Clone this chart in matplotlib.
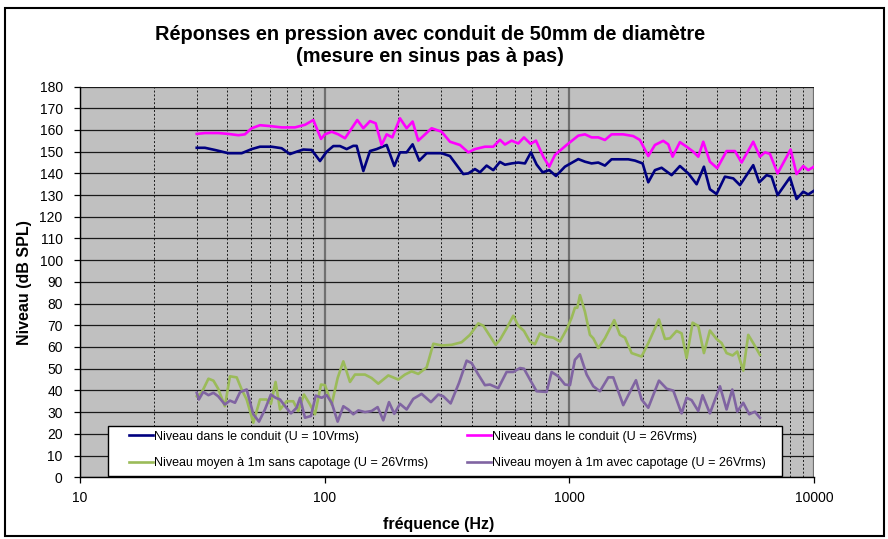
import matplotlib
matplotlib.use('Agg')
import matplotlib.pyplot as plt
from matplotlib.patches import Rectangle
from matplotlib.ticker import FixedLocator, FixedFormatter, NullFormatter

plt.rcParams['font.family'] = ['Liberation Sans', 'DejaVu Sans']

# ---- data (frequency in Hz, level in dB SPL) ----
freq_conduit_10v = [30.0, 32.4, 35.6, 40.4, 45.8, 50.3, 54.4, 60.7, 66.7, 72.1, 76.8, 81.8, 88.5, 95.7,
                    101.9, 108.5, 115.5, 123.0, 130.9, 135.1, 143.9, 153.2, 163.1, 179.2, 192.6, 203.1,
                    216.3, 228.8, 243.6, 261.1, 300.6, 325.1, 368.6, 386.4, 411.4, 431.2, 459.1, 488.8,
                    520.4, 545.5, 580.9, 618.5, 658.7, 696.8, 734.9, 777.7, 827.9, 881.7, 959.4, 1088,
                    1158, 1233, 1313, 1398, 1488, 1741, 1854, 1993, 2102, 2238, 2383, 2618, 2831, 3063,
                    3313, 3549, 3754, 3996, 4324, 4677, 4981, 5645, 5973, 6401, 6708, 7100, 7973, 8488,
                    9036, 9471, 10000]
level_conduit_10v = [151.8, 151.8, 150.8, 149.3, 149.3, 151.2, 152.3, 152.3, 151.6, 148.9, 150.0, 151.0,
                     150.8, 145.7, 150.0, 152.6, 152.6, 151.2, 152.7, 152.7, 141.1, 150.3, 151.2, 153.1,
                     143.4, 149.7, 149.7, 153.4, 145.9, 149.3, 149.3, 148.0, 139.7, 140.0, 142.0, 140.5,
                     143.6, 141.5, 145.3, 144.0, 144.6, 145.0, 144.6, 149.7, 144.1, 140.5, 141.5, 138.8,
                     143.1, 146.6, 145.4, 144.6, 145.0, 143.6, 146.5, 146.5, 145.9, 144.6, 135.9, 141.5,
                     142.6, 139.2, 143.4, 140.0, 135.0, 143.1, 132.7, 130.5, 138.5, 137.7, 134.6, 143.8,
                     135.9, 139.2, 138.5, 130.0, 138.1, 128.2, 131.6, 130.3, 132.0]

freq_conduit_26v = [30.0, 32.4, 36.7, 40.4, 44.4, 47.2, 50.3, 54.4, 59.8, 66.7, 75.6, 83.1, 89.9, 96.6,
                    100.3, 106.8, 113.7, 121.1, 135.9, 143.9, 153.2, 161.6, 170.9, 179.2, 189.0, 203.1,
                    216.3, 228.8, 241.3, 273.6, 300.6, 325.1, 357.3, 386.4, 411.4, 451.9, 488.8, 520.4,
                    545.5, 580.9, 618.5, 652.5, 694.6, 730.4, 782.6, 827.9, 873.4, 974.5, 1088, 1158,
                    1233, 1313, 1398, 1488, 1661, 1825, 1943, 2102, 2238, 2420, 2537, 2642, 2831, 3015,
                    3210, 3365, 3527, 3754, 4022, 4392, 4752, 5058, 5645, 6010, 6301, 6604, 7100, 8023,
                    8488, 9036, 9471, 10000]
level_conduit_26v = [158.2, 158.6, 158.6, 158.2, 157.6, 158.0, 160.8, 162.2, 161.8, 161.2, 161.2, 162.4,
                     164.6, 155.9, 158.0, 159.2, 158.0, 156.2, 164.6, 160.8, 164.1, 163.1, 153.1, 158.0,
                     156.6, 165.4, 160.8, 163.9, 155.1, 160.8, 159.2, 154.6, 153.1, 149.7, 151.2, 152.3,
                     152.3, 155.5, 153.3, 155.1, 153.8, 156.6, 153.6, 155.1, 147.7, 143.1, 148.5, 153.1,
                     157.4, 158.0, 156.6, 156.6, 155.4, 158.0, 158.0, 157.2, 155.4, 148.0, 153.1, 155.0,
                     153.4, 147.7, 154.4, 152.3, 150.0, 147.7, 154.6, 145.4, 142.4, 150.3, 150.3, 145.0,
                     154.6, 147.7, 149.7, 149.0, 140.0, 151.0, 139.7, 143.4, 141.5, 143.1]

freq_1m_sans = [30.0, 31.4, 33.5, 35.1, 36.7, 39.1, 41.0, 43.7, 45.8, 48.0, 51.1, 54.4, 57.9, 60.3, 63.0,
                65.7, 69.9, 74.4, 78.0, 82.3, 87.1, 91.3, 96.6, 100.3, 106.8, 113.0, 119.2, 126.9, 133.0,
                146.1, 155.6, 165.6, 182.0, 200.0, 212.9, 226.6, 241.3, 261.1, 278.0, 300.6, 330.3,
                362.9, 392.5, 424.5, 445.0, 499.7, 520.4, 554.1, 590.1, 618.5, 652.5, 690.2, 723.5,
                758.5, 807.4, 859.8, 915.4, 974.5, 1022, 1054, 1078, 1105, 1158, 1214, 1253, 1313,
                1398, 1526, 1610, 1688, 1797, 1974, 2102, 2324, 2459, 2577, 2744, 2876, 3015, 3190,
                3365, 3549, 3754, 3996, 4192, 4392, 4648, 4857, 5138, 5386, 5680, 6010]
level_1m_sans = [37.3, 38.9, 45.4, 44.5, 40.8, 32.7, 46.5, 46.0, 40.4, 35.8, 25.1, 35.8, 35.8, 33.8,
                 43.9, 31.2, 35.0, 35.0, 30.5, 38.1, 33.5, 29.0, 42.7, 42.4, 33.5, 45.7, 53.4, 43.9,
                 47.3, 47.3, 45.7, 43.1, 46.9, 45.0, 47.3, 48.8, 47.6, 50.6, 61.5, 60.7, 61.0, 62.2,
                 65.6, 70.9, 69.8, 61.0, 63.3, 68.6, 74.4, 69.8, 67.4, 62.5, 61.3, 66.3, 64.8, 64.3,
                 62.5, 68.1, 73.5, 78.1, 78.1, 83.9, 76.3, 65.6, 64.0, 59.5, 64.0, 72.4, 65.6, 64.3,
                 57.2, 55.6, 61.8, 72.7, 63.7, 64.0, 67.4, 66.3, 54.9, 71.2, 69.7, 57.2, 67.6, 63.7,
                 61.8, 57.2, 56.1, 57.9, 49.1, 65.6, 61.3, 56.4]

freq_1m_avec = [30.0, 30.6, 31.9, 33.5, 35.1, 36.7, 39.1, 41.0, 43.0, 45.1, 48.0, 51.1, 53.9, 57.0, 60.3,
                63.0, 65.7, 68.4, 72.8, 76.8, 79.3, 83.1, 87.9, 91.9, 97.2, 101.9, 106.8, 113.0, 119.2,
                124.9, 130.9, 137.3, 146.1, 155.6, 164.6, 173.6, 183.2, 192.6, 203.1, 216.3, 230.2,
                249.0, 271.9, 291.3, 305.3, 327.2, 353.9, 380.4, 398.6, 424.5, 451.9, 473.7, 512.3,
                554.1, 590.1, 628.3, 652.5, 690.2, 734.9, 807.4, 846.3, 901.2, 959.4, 1006, 1054, 1105,
                1177, 1253, 1334, 1443, 1512, 1661, 1872, 1974, 2102, 2324, 2498, 2660, 2876, 3015,
                3160, 3365, 3504, 3754, 4127, 4392, 4634, 4857, 5138, 5436, 5734, 6010]
level_1m_avec = [38.9, 35.8, 39.3, 37.8, 38.9, 37.3, 33.5, 35.3, 34.3, 39.2, 40.4, 29.0, 25.6, 31.2,
                 38.1, 36.6, 35.8, 33.2, 29.4, 32.0, 36.6, 27.4, 28.2, 37.6, 36.6, 37.8, 34.3, 25.6,
                 32.7, 31.2, 29.0, 30.8, 30.0, 30.5, 32.3, 26.2, 34.6, 29.2, 33.8, 31.2, 36.1, 38.4,
                 34.6, 38.1, 37.3, 34.0, 43.4, 53.7, 52.6, 47.3, 42.4, 42.7, 41.0, 48.5, 48.5, 50.3,
                 50.0, 45.0, 39.6, 39.3, 48.5, 46.5, 42.7, 42.4, 54.1, 56.7, 47.3, 41.9, 39.6, 46.0,
                 46.0, 33.2, 44.7, 35.8, 32.0, 44.5, 40.8, 39.9, 29.4, 36.6, 35.5, 30.5, 37.8, 29.4,
                 41.9, 31.2, 40.4, 30.2, 34.3, 29.0, 30.2, 27.4]

series_labels = ["Niveau dans le conduit (U = 10Vrms)",
                 "Niveau dans le conduit (U = 26Vrms)",
                 "Niveau moyen à 1m sans capotage (U = 26Vrms)",
                 "Niveau moyen à 1m avec capotage (U = 26Vrms)"]
x_tick_values = [10, 100, 1000, 10000]
x_tick_labels = ["10", "100", "1000", "10000"]
y_tick_values = list(range(0, 181, 10))

title_line1 = "Réponses en pression avec conduit de 50mm de diamètre"
title_line2 = "(mesure en sinus pas à pas)"
xlabel_text = "fréquence (Hz)"
ylabel_text = "Niveau (dB SPL)"

# ---- figure ----
W, H = 888, 539
fig = plt.figure(figsize=(8.88, 5.39), dpi=100)
ax_left, ax_right, ax_top, ax_bottom = 80, 814, 86.6, 477.2
ax = fig.add_axes([ax_left / W, 1 - ax_bottom / H, (ax_right - ax_left) / W, (ax_bottom - ax_top) / H])
ax.set_facecolor('#C0C0C0')
ax.set_xscale('log')
ax.set_xlim(10, 10000)
ax.set_ylim(0, 180)

ax.xaxis.set_major_locator(FixedLocator(x_tick_values))
ax.xaxis.set_major_formatter(FixedFormatter(x_tick_labels))
minor = [m * d for d in (10, 100, 1000) for m in range(2, 10)]
ax.xaxis.set_minor_locator(FixedLocator(minor))
ax.xaxis.set_minor_formatter(NullFormatter())
ax.set_yticks(y_tick_values)

ax.grid(which='major', axis='y', color='#1a1a1a', lw=0.9, zorder=1)
ax.grid(which='major', axis='x', color='#707070', lw=1.6, zorder=1)
ax.grid(which='minor', axis='x', color='#1a1a1a', lw=0.7, linestyle=(0, (2, 2)), zorder=1)
ax.set_axisbelow(True)

ax.tick_params(axis='both', which='major', direction='out', length=4, width=0.9,
               labelsize=10, colors='black')
ax.tick_params(axis='y', which='major', pad=8.5)
ax.tick_params(axis='x', which='major', pad=6)
ax.tick_params(axis='x', which='minor', length=0)
for s in ('top', 'right'):
    ax.spines[s].set_visible(False)
for s in ('left', 'bottom'):
    ax.spines[s].set_color('black')
    ax.spines[s].set_linewidth(1.0)

lw = 1.9
l1, = ax.plot(freq_conduit_10v, level_conduit_10v, color='#000080', lw=lw, label=series_labels[0], zorder=3)
l2, = ax.plot(freq_conduit_26v, level_conduit_26v, color='#FF00FF', lw=lw, label=series_labels[1], zorder=3)
l3, = ax.plot(freq_1m_sans, level_1m_sans, color='#9BBB59', lw=lw, label=series_labels[2], zorder=3)
l4, = ax.plot(freq_1m_avec, level_1m_avec, color='#8064A2', lw=lw, label=series_labels[3], zorder=3)


def fx(px):
    return (px - ax_left) / (ax_right - ax_left)


def fy(py):
    return (ax_bottom - py) / (ax_bottom - ax_top)


# legend frame
ax.add_patch(Rectangle((fx(108), fy(476)), fx(782) - fx(108), fy(426) - fy(476), transform=ax.transAxes,
                       facecolor='white', edgecolor='black', lw=1.0, zorder=4))
leg = ax.legend([l1, l3, l2, l4], [series_labels[0], series_labels[2], series_labels[1], series_labels[3]],
                ncol=2, loc='center', mode='expand',
                bbox_to_anchor=(fx(129), fy(450) - 0.05, fx(766) - fx(129), 0.1),
                fontsize=9, frameon=False, handlelength=1.9, handletextpad=0.1, borderpad=0,
                labelspacing=1.15, columnspacing=2.0, borderaxespad=0)
leg.set_zorder(5)

fig.text(439 / W, 1 - 524 / H, xlabel_text, ha='center', va='center', fontsize=11.5, fontweight='bold')
fig.text(24 / W, 1 - 283 / H, ylabel_text, ha='center', va='center', rotation=90, fontsize=11.5,
         fontweight='bold')

fig.text(430 / W, 1 - 35 / H, title_line1, ha='center', va='center', fontsize=14.4, fontweight='bold')
fig.text(430 / W, 1 - 56 / H, title_line2, ha='center', va='center', fontsize=14.4, fontweight='bold')

fig.patches.append(Rectangle((5 / W, 3 / H), 879 / W, 528 / H, transform=fig.transFigure,
                             fill=False, edgecolor='black', lw=1.5))

fig.savefig('out.png', dpi=100)
